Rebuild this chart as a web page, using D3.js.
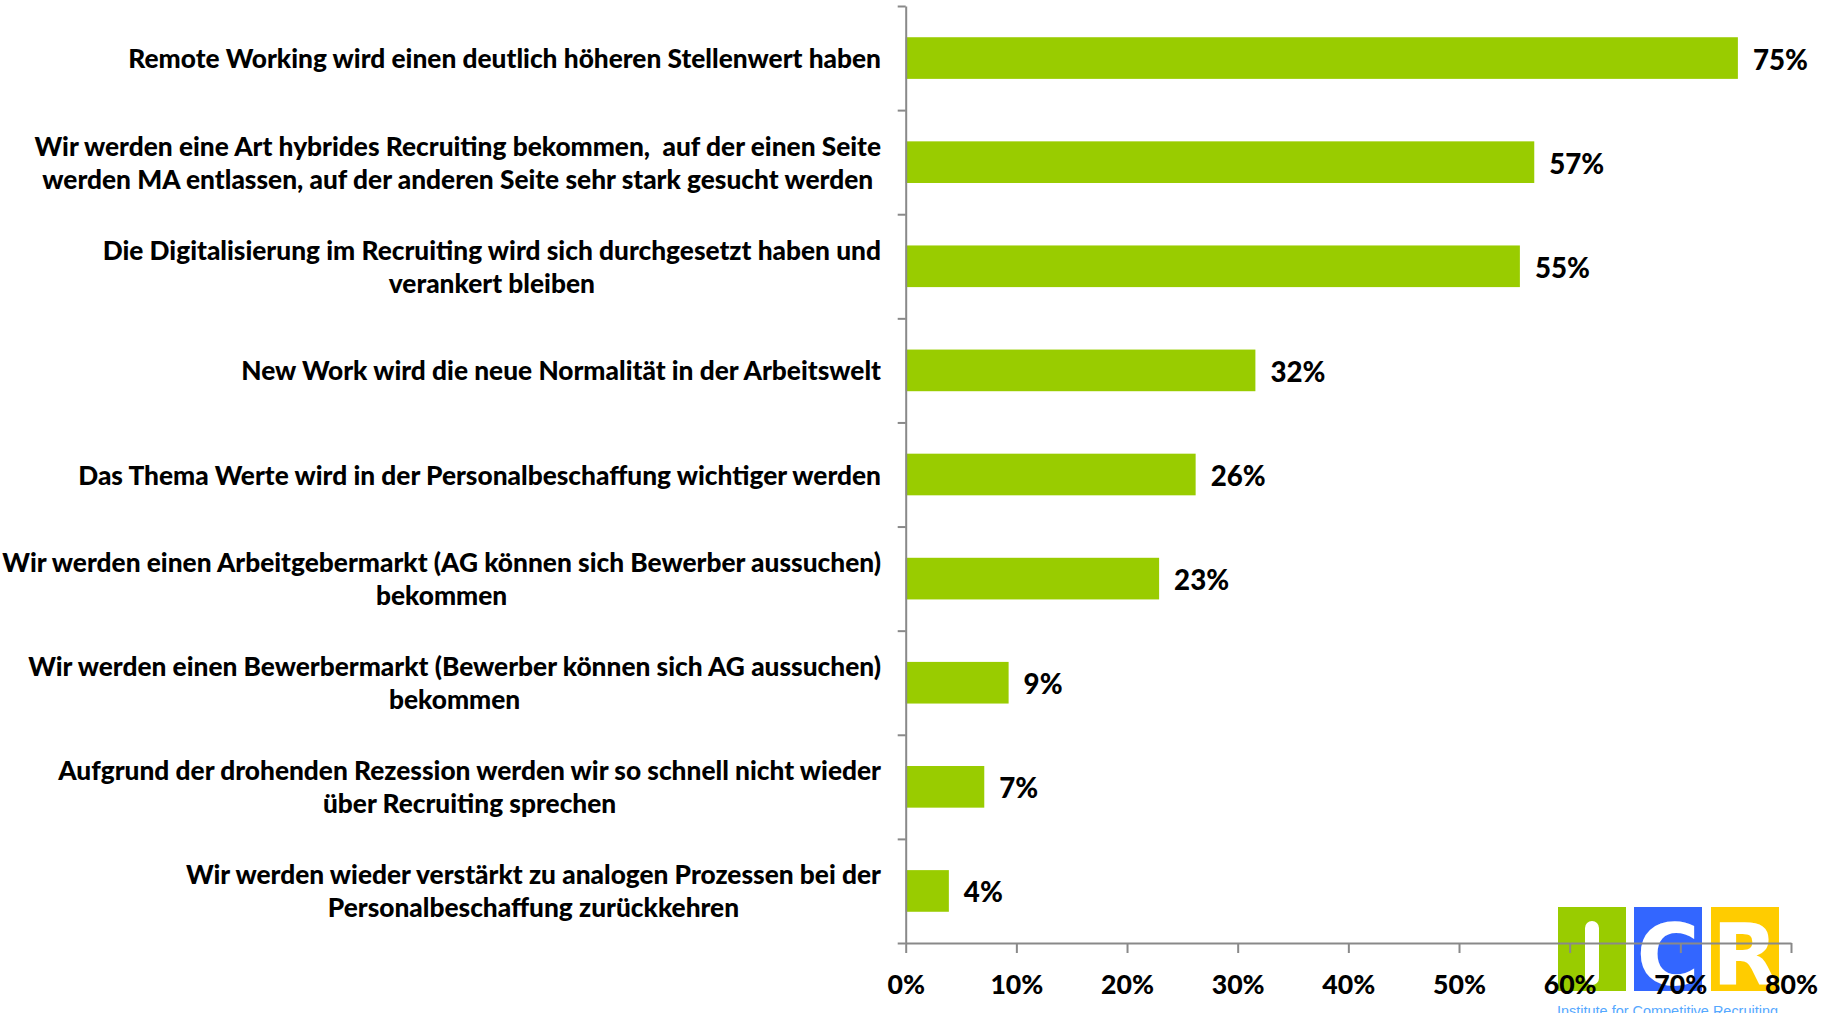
<!DOCTYPE html>
<html>
<head>
<meta charset="utf-8">
<script src="https://cdn.jsdelivr.net/npm/d3@7"></script>
<style>
  html, body { margin: 0; padding: 0; background: #ffffff; }
  svg { display: block; }
  text { font-family: Lato, "Open Sans", sans-serif; font-weight: 700; fill: #000; white-space: pre; }
  .heavy { font-weight: 900; }
</style>
</head>
<body>
<svg id="chart" width="1833" height="1013"></svg>
<script>
// ---- data ----
const categories = [
  ["Remote Working wird einen deutlich höheren Stellenwert haben"],
  ["Wir werden eine Art hybrides Recruiting bekommen,  auf der einen Seite", "werden MA entlassen, auf der anderen Seite sehr stark gesucht werden"],
  ["Die Digitalisierung im Recruiting wird sich durchgesetzt haben und", "verankert bleiben"],
  ["New Work wird die neue Normalität in der Arbeitswelt"],
  ["Das Thema Werte wird in der Personalbeschaffung wichtiger werden"],
  ["Wir werden einen Arbeitgebermarkt (AG können sich Bewerber aussuchen)", "bekommen"],
  ["Wir werden einen Bewerbermarkt (Bewerber können sich AG aussuchen)", "bekommen"],
  ["Aufgrund der drohenden Rezession werden wir so schnell nicht wieder", "über Recruiting sprechen"],
  ["Wir werden wieder verstärkt zu analogen Prozessen bei der", "Personalbeschaffung zurückkehren"]
];
const values = [75.2, 56.8, 55.5, 31.6, 26.2, 22.9, 9.3, 7.1, 3.9];
const valueLabels = ["75%", "57%", "55%", "32%", "26%", "23%", "9%", "7%", "4%"];
const xTicks = [0, 10, 20, 30, 40, 50, 60, 70, 80];
const xTickLabels = ["0%", "10%", "20%", "30%", "40%", "50%", "60%", "70%", "80%"];
const logoLetters = ["I", "C", "R"];
const logoColors = ["#99CC00", "#3366FF", "#FFCC00"];
const logoCaption = "Institute for Competitive Recruiting";

// ---- layout ----
const svg = d3.select("#chart");
const x0 = 905.7, x80 = 1791, yTop = 6, yBottom = 943;
const labelRight = 881;
const axisColor = "#898989";
const barColor = "#99CC00";

const x = d3.scaleLinear().domain([0, 80]).range([x0, x80]);
const y = d3.scaleBand().domain(d3.range(categories.length)).range([yTop, yBottom])
  .paddingInner(0.6).paddingOuter(0.3);
const yEdge = d3.scaleLinear().domain([0, categories.length]).range([yTop, yBottom]);

// font fitting helper
function fitSize(str, targetW, base, cls) {
  const t = svg.append("text").attr("class", cls || null).style("font-size", base + "px").text(str);
  const w = t.node().getComputedTextLength();
  t.remove();
  return base * targetW / w;
}
const catSize = fitSize(categories[0][0], 753, 24, "heavy");
const valSize = fitSize("75%", 55, 30, "heavy");
const tickSize = fitSize("10%", 53, 30, "heavy");

// ---- logo (behind chart) ----
const logo = svg.append("g");
const boxX = [1558, 1634, 1711];
logo.selectAll("rect.box").data(logoColors).join("rect")
  .attr("class", "box")
  .attr("x", (d, i) => boxX[i]).attr("y", 907)
  .attr("width", 68).attr("height", 84).attr("fill", d => d);
logo.append("rect").attr("x", 1585).attr("y", 921).attr("width", 14).attr("height", 64)
  .attr("rx", 7).attr("fill", "#fff");
logo.selectAll("text.letter").data(logoLetters.slice(1)).join("text")
  .attr("class", "letter")
  .attr("x", (d, i) => boxX[i + 1] + 34).attr("y", 985)
  .attr("text-anchor", "middle")
  .style("font-family", "'DejaVu Sans', sans-serif").style("font-weight", 700)
  .style("font-size", "86px").style("fill", "#fff")
  .text(d => d);
logo.append("text").attr("x", 1557).attr("y", 1016)
  .attr("textLength", 221).attr("lengthAdjust", "spacingAndGlyphs")
  .style("font-family", "'Liberation Sans', Arial, sans-serif").style("font-weight", 400)
  .style("font-size", "15px").style("fill", "#55A8FF")
  .text(logoCaption);

// ---- bars ----
svg.append("g").selectAll("rect").data(values).join("rect")
  .attr("x", x(0)).attr("y", (d, i) => y(i))
  .attr("width", d => x(d) - x(0)).attr("height", y.bandwidth())
  .attr("fill", barColor);

// ---- value labels ----
svg.append("g").selectAll("text").data(values).join("text")
  .attr("class", "heavy")
  .attr("x", d => x(d) + 15).attr("y", (d, i) => y(i) + y.bandwidth() / 2 + 1)
  .attr("dominant-baseline", "central")
  .style("font-size", valSize + "px")
  .text((d, i) => valueLabels[i]);

// ---- y axis ----
const yAxis = d3.axisLeft(yEdge).tickValues(d3.range(categories.length + 1))
  .tickFormat("").tickSizeInner(8).tickSizeOuter(0);
const gy = svg.append("g").attr("transform", `translate(${x0},0)`).call(yAxis);
gy.selectAll("path, line").attr("stroke", axisColor).attr("stroke-width", 2);

// ---- x axis ----
const xAxis = d3.axisBottom(x).tickValues(xTicks).tickFormat((d, i) => xTickLabels[i])
  .tickSizeInner(10).tickSizeOuter(0);
const gx = svg.append("g").attr("transform", `translate(0,${yBottom})`).call(xAxis);
gx.selectAll("path, line").attr("stroke", axisColor).attr("stroke-width", 2);
gx.selectAll("text").attr("class", "heavy").attr("y", 41).attr("dy", null).attr("dominant-baseline", "central")
  .style("font-size", tickSize + "px").style("font-family", "Lato, sans-serif")
  .attr("fill", "#000");

// ---- category labels ----
const lineH = 33;
const catG = svg.append("g");
categories.forEach((lines, i) => {
  const cy = y(i) + y.bandwidth() / 2;
  const t = catG.append("text").attr("class", "heavy").attr("text-anchor", "middle").style("font-size", catSize + "px");
  const spans = lines.map((ln, j) => t.append("tspan")
    .attr("y", cy + (j - (lines.length - 1) / 2) * lineH)
    .attr("dominant-baseline", "central").text(ln));
  const maxW = d3.max(spans, s => s.node().getComputedTextLength());
  spans.forEach(s => s.attr("x", labelRight - maxW / 2));
});
</script>
</body>
</html>
